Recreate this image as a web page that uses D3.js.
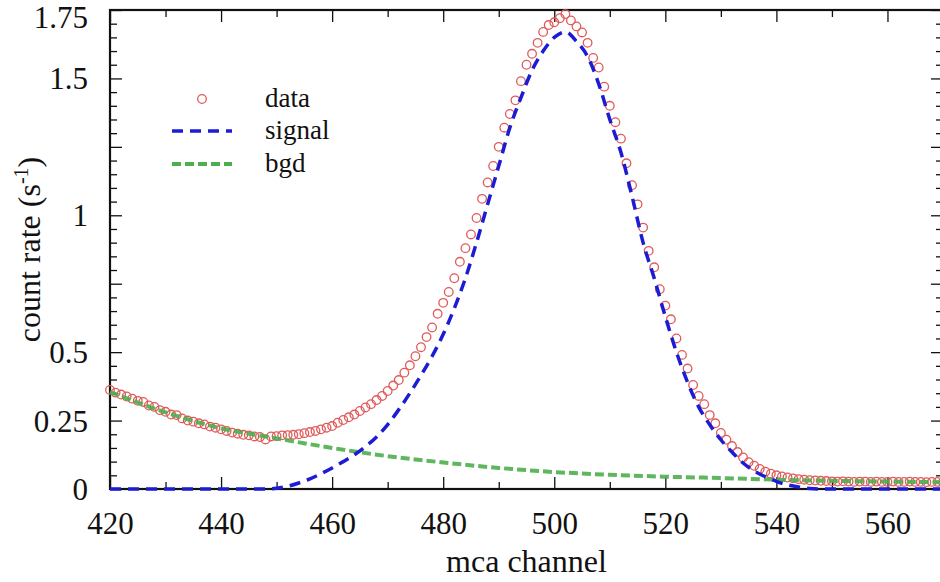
<!DOCTYPE html>
<html>
<head>
<meta charset="utf-8">
<script src="https://cdn.jsdelivr.net/npm/d3@7"></script>
<style>
  body { margin: 0; background: #fff; }
</style>
</head>
<body>
<div id="chart"></div>
<script>
// measured spectrum, one point per mca channel (420..570)
const channels = d3.range(420, 571);
const counts = [
  0.362, 0.352, 0.345, 0.338, 0.330, 0.322, 0.318, 0.305, 0.300, 0.288,
  0.282, 0.272, 0.270, 0.258, 0.250, 0.246, 0.240, 0.236, 0.228, 0.224,
  0.218, 0.212, 0.206, 0.202, 0.198, 0.196, 0.192, 0.190, 0.181, 0.192,
  0.193, 0.196, 0.197, 0.198, 0.200, 0.204, 0.208, 0.212, 0.218, 0.224,
  0.230, 0.242, 0.252, 0.262, 0.272, 0.285, 0.298, 0.310, 0.325, 0.340,
  0.358, 0.378, 0.398, 0.425, 0.452, 0.485, 0.518, 0.555, 0.590, 0.640,
  0.680, 0.720, 0.770, 0.830, 0.880, 0.930, 0.990, 1.060, 1.120, 1.180,
  1.250, 1.320, 1.370, 1.420, 1.490, 1.550, 1.590, 1.630, 1.670, 1.695,
  1.705, 1.720, 1.735, 1.712, 1.690, 1.668, 1.630, 1.575, 1.540, 1.470,
  1.400, 1.340, 1.280, 1.190, 1.110, 1.040, 0.955, 0.870, 0.810, 0.730,
  0.670, 0.620, 0.550, 0.490, 0.440, 0.380, 0.340, 0.310, 0.270, 0.240,
  0.205, 0.180, 0.157, 0.135, 0.115, 0.098, 0.085, 0.073, 0.063, 0.056,
  0.050, 0.046, 0.042, 0.039, 0.036, 0.034, 0.032, 0.031, 0.030, 0.029,
  0.028, 0.027, 0.028, 0.027, 0.026, 0.027, 0.027, 0.026, 0.027, 0.026,
  0.026, 0.027, 0.026, 0.026, 0.027, 0.026, 0.026, 0.025, 0.026, 0.026,
  0.026
];

// fitted signal, every 2 channels
const signalCh = d3.range(420, 571, 2);
const signalVals = [
  0, 0, 0, 0, 0, 0, 0, 0, 0, 0, 0, 0, 0, 0, 0,
  0.003, 0.010, 0.022, 0.037, 0.056, 0.077, 0.100, 0.125, 0.155, 0.190,
  0.235, 0.290, 0.350, 0.415, 0.485, 0.565, 0.660, 0.770, 0.900, 1.040,
  1.180, 1.320, 1.430, 1.530, 1.600, 1.650, 1.670, 1.635, 1.580, 1.480,
  1.350, 1.230, 1.070, 0.900, 0.770, 0.630, 0.500, 0.390, 0.300, 0.235,
  0.180, 0.135, 0.095, 0.066, 0.045, 0.028, 0.015, 0.007, 0.002, 0,
  0, 0, 0, 0, 0, 0, 0, 0, 0, 0, 0
];

// fitted background, every 10 channels
const bgdCh = d3.range(420, 571, 10);
const bgdVals = [0.355, 0.280, 0.222, 0.185, 0.150, 0.120, 0.097, 0.077,
                 0.062, 0.052, 0.045, 0.040, 0.034, 0.030, 0.027, 0.025];

const xMajor = [420, 440, 460, 480, 500, 520, 540, 560];
const yLabels = [0, 0.25, 0.5, 1, 1.5, 1.75];

const FONT = '"Liberation Serif", "Times New Roman", Times, "DejaVu Serif", serif';

const W = 940, H = 582;
const margin = {top: 10, right: -3, bottom: 93, left: 110};
const innerW = W - margin.left - margin.right;
const innerH = H - margin.top - margin.bottom;

const svg = d3.select('#chart').append('svg')
    .attr('width', W)
    .attr('height', H)
    .style('font-family', FONT);

const g = svg.append('g')
    .attr('transform', 'translate(' + margin.left + ',' + margin.top + ')');

const x = d3.scaleLinear().domain([420, 570]).range([0, innerW]);
const y = d3.scaleLinear().domain([0, 1.75]).range([innerH, 0]);

const xMinor = d3.range(430, 571, 20);
const yMajor = d3.range(0, 1.76, 0.25);
const yMinor = d3.range(0, 1.76, 0.05).filter(v => Math.abs(v / 0.25 - Math.round(v / 0.25)) > 1e-6);

function styleAxis(sel) {
    sel.attr('font-family', FONT);
    sel.select('.domain').remove();
    sel.selectAll('line').attr('stroke', '#111').attr('stroke-width', 1.3);
    sel.selectAll('text').attr('fill', '#111').style('font-family', FONT);
}

// bottom axis
g.append('g').attr('transform', 'translate(0,' + innerH + ')')
    .call(d3.axisBottom(x).tickValues(xMajor).tickSizeInner(-12).tickSizeOuter(0).tickPadding(23).tickFormat(d3.format('d')))
    .call(styleAxis)
    .call(s => s.selectAll('text').attr('font-size', 31));
g.append('g').attr('transform', 'translate(0,' + innerH + ')')
    .call(d3.axisBottom(x).tickValues(xMinor).tickSizeInner(-7).tickSizeOuter(0).tickFormat(''))
    .call(styleAxis);

// top axis
g.append('g')
    .call(d3.axisTop(x).tickValues(xMajor).tickSizeInner(-12).tickSizeOuter(0).tickFormat(''))
    .call(styleAxis);
g.append('g')
    .call(d3.axisTop(x).tickValues(xMinor).tickSizeInner(-7).tickSizeOuter(0).tickFormat(''))
    .call(styleAxis);

// left axis
g.append('g')
    .call(d3.axisLeft(y).tickValues(yMajor).tickSizeInner(-12).tickSizeOuter(0).tickPadding(22)
        .tickFormat(d => yLabels.some(v => Math.abs(v - d) < 1e-6) ? String(+d.toFixed(2)) : ''))
    .call(styleAxis)
    .call(s => s.selectAll('text').attr('font-size', 31)
        .attr('dy', d => Math.abs(d - 1.75) < 1e-6 ? '0.58em' : '0.34em'));
g.append('g')
    .call(d3.axisLeft(y).tickValues(yMinor).tickSizeInner(-7).tickSizeOuter(0).tickFormat(''))
    .call(styleAxis);

// right axis
g.append('g').attr('transform', 'translate(' + innerW + ',0)')
    .call(d3.axisRight(y).tickValues(yMajor).tickSizeInner(-12).tickSizeOuter(0).tickFormat(''))
    .call(styleAxis);
g.append('g').attr('transform', 'translate(' + innerW + ',0)')
    .call(d3.axisRight(y).tickValues(yMinor).tickSizeInner(-7).tickSizeOuter(0).tickFormat(''))
    .call(styleAxis);

// frame
g.append('rect')
    .attr('width', innerW)
    .attr('height', innerH)
    .attr('fill', 'none')
    .attr('stroke', '#111')
    .attr('stroke-width', 2.2);

// data points
g.append('g')
    .selectAll('circle')
    .data(channels)
    .join('circle')
    .attr('cx', d => x(d))
    .attr('cy', (d, i) => y(counts[i]))
    .attr('r', 4.3)
    .attr('fill', 'none')
    .attr('stroke', '#e05a5a')
    .attr('stroke-width', 1.3);

const line = d3.line().curve(d3.curveMonotoneX);

g.append('path')
    .attr('d', line(bgdCh.map((c, i) => [x(c), y(bgdVals[i])])))
    .attr('fill', 'none')
    .attr('stroke', '#4cae4c')
    .attr('stroke-width', 4)
    .attr('stroke-opacity', 0.9)
    .attr('stroke-dasharray', '9,4');

g.append('path')
    .attr('d', line(signalCh.map((c, i) => [x(c), y(signalVals[i])])))
    .attr('fill', 'none')
    .attr('stroke', '#1c1cd4')
    .attr('stroke-width', 3.5)
    .attr('stroke-dasharray', '11,7');

// legend
const legend = svg.append('g');
const rows = [
    {label: 'data', y: 99},
    {label: 'signal', y: 131},
    {label: 'bgd', y: 164}
];
legend.append('circle')
    .attr('cx', 202).attr('cy', rows[0].y).attr('r', 4.3)
    .attr('fill', 'none').attr('stroke', '#e05a5a').attr('stroke-width', 1.3);
legend.append('line')
    .attr('x1', 172).attr('x2', 232).attr('y1', rows[1].y).attr('y2', rows[1].y)
    .attr('stroke', '#1c1cd4').attr('stroke-width', 3.5).attr('stroke-dasharray', '11,7');
legend.append('line')
    .attr('x1', 172).attr('x2', 232).attr('y1', rows[2].y).attr('y2', rows[2].y)
    .attr('stroke', '#4cae4c').attr('stroke-width', 4).attr('stroke-dasharray', '9,4');
legend.selectAll('text')
    .data(rows)
    .join('text')
    .attr('x', 265)
    .attr('y', d => d.y + 8)
    .attr('font-size', 27)
    .attr('fill', '#111')
    .text(d => d.label);

// axis titles
svg.append('text')
    .attr('x', margin.left + innerW / 2)
    .attr('y', 572)
    .attr('text-anchor', 'middle')
    .attr('font-size', 32)
    .attr('fill', '#111')
    .text('mca channel');

const yt = svg.append('text')
    .attr('transform', 'translate(40,' + (margin.top + innerH / 2) + ') rotate(-90)')
    .attr('text-anchor', 'middle')
    .attr('font-size', 32)
    .attr('fill', '#111');
yt.append('tspan').text('count rate (s');
yt.append('tspan').attr('font-size', 20).attr('dy', -12).text('-1');
yt.append('tspan').attr('dy', 12).text(')');
</script>
</body>
</html>
